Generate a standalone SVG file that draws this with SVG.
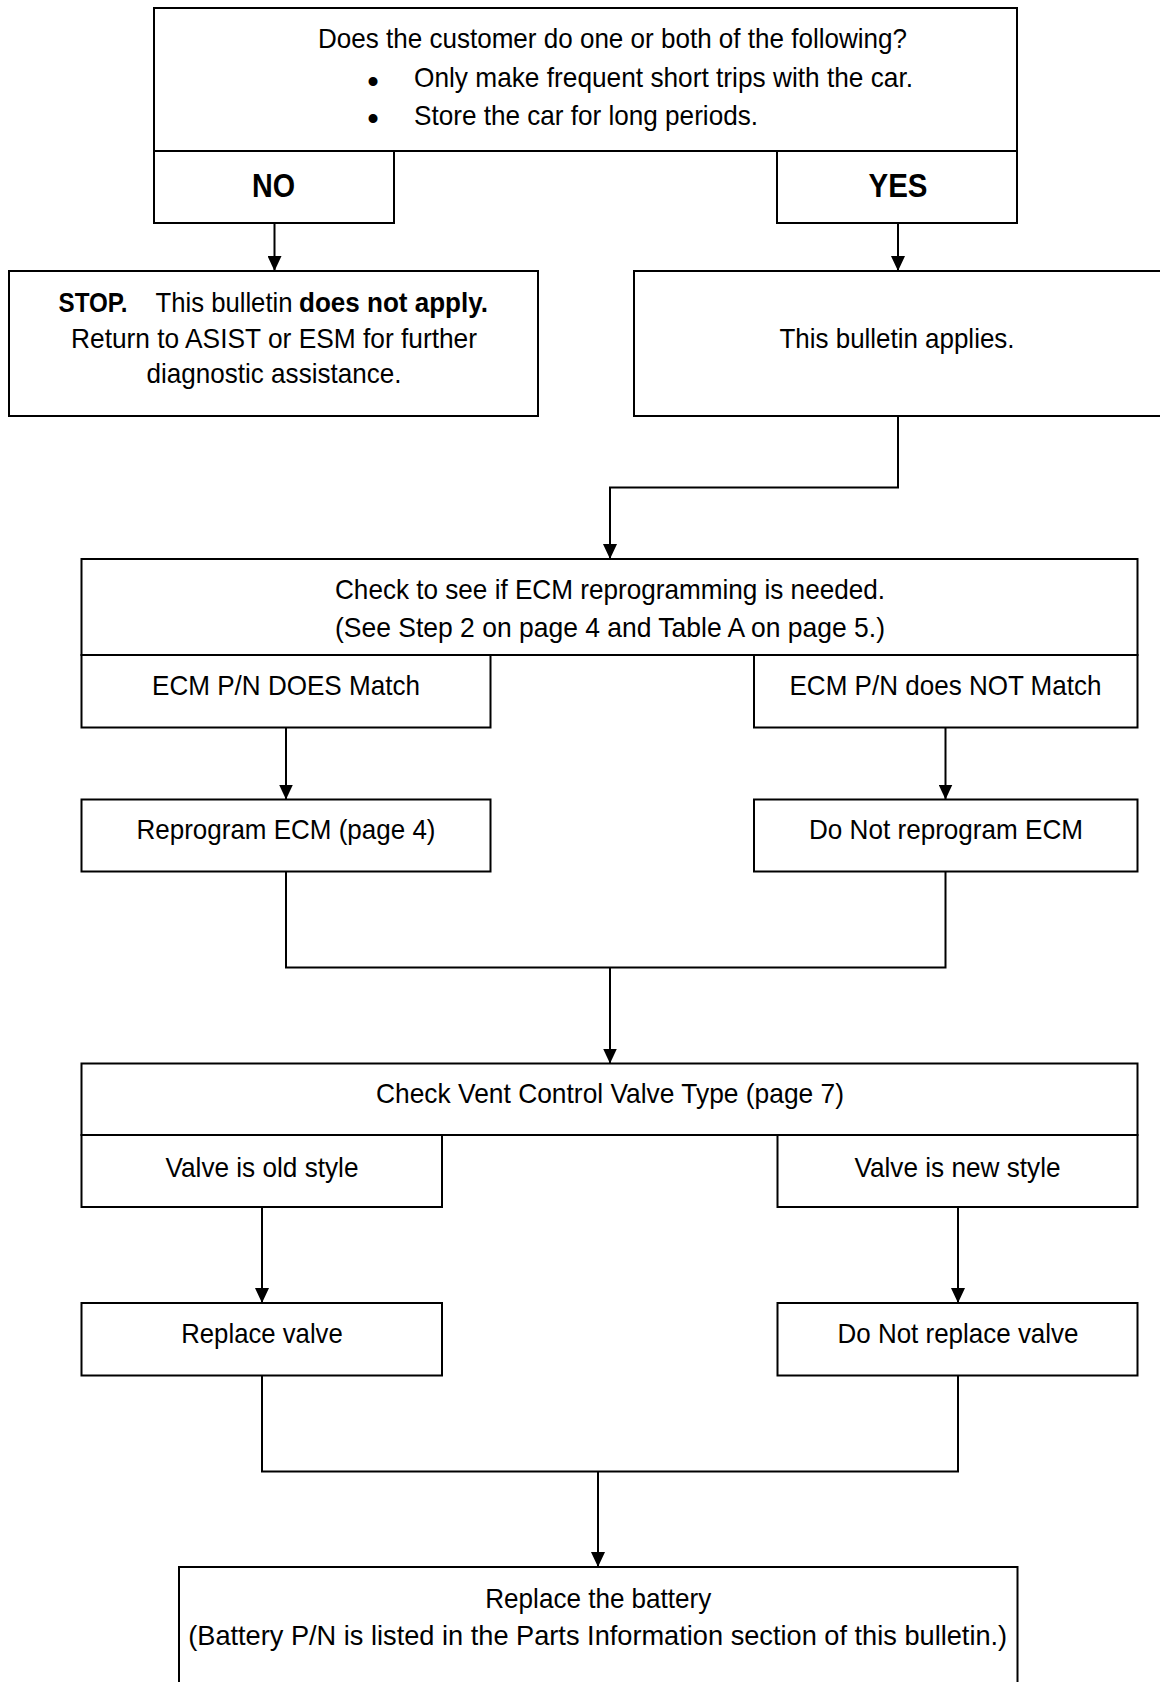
<svg xmlns="http://www.w3.org/2000/svg" width="1160" height="1682" viewBox="0 0 1160 1682">
<defs>
<style>
.box{fill:#fff;stroke:#000;stroke-width:2}
.ln{fill:none;stroke:#000;stroke-width:2}
text{font-family:"Liberation Sans",Arial,sans-serif;font-size:28px;fill:#000}
.c{text-anchor:middle}
.b{font-weight:bold}
.big{font-size:33px;font-weight:bold}
.bul{font-size:33px}
</style>
<marker id="ah" viewBox="0 0 15 14" refX="15" refY="7" markerWidth="15" markerHeight="14" markerUnits="userSpaceOnUse" orient="auto">
<path d="M0,0 L15,7 L0,14 z" fill="#000"/>
</marker>
</defs>
<rect width="1160" height="1682" fill="#fff"/>

<g id="connectors">
<path class="ln" d="M274.5,223 V271" marker-end="url(#ah)"/>
<path class="ln" d="M898,223 V271" marker-end="url(#ah)"/>
<path class="ln" d="M898,416 V487.5 H610 V559" marker-end="url(#ah)"/>
<path class="ln" d="M286,727.5 V799.5" marker-end="url(#ah)"/>
<path class="ln" d="M945.5,727.5 V799.5" marker-end="url(#ah)"/>
<path class="ln" d="M286,871.5 V967.5 H945.5 V871.5"/>
<path class="ln" d="M610,967.5 V1063.5" marker-end="url(#ah)"/>
<path class="ln" d="M262,1207 V1303" marker-end="url(#ah)"/>
<path class="ln" d="M958,1207 V1303" marker-end="url(#ah)"/>
<path class="ln" d="M262,1375.5 V1471.5 H958 V1375.5"/>
<path class="ln" d="M598,1471.5 V1567" marker-end="url(#ah)"/>
</g>

<g id="q1">
<rect class="box" x="154" y="8" width="863" height="143"/>
<text x="318" y="48" textLength="589" lengthAdjust="spacingAndGlyphs">Does the customer do one or both of the following?</text>
<text class="c bul" x="373" y="93">•</text>
<text x="414" y="87" textLength="499" lengthAdjust="spacingAndGlyphs">Only make frequent short trips with the car.</text>
<text class="c bul" x="373" y="130">•</text>
<text x="414" y="125" textLength="344" lengthAdjust="spacingAndGlyphs">Store the car for long periods.</text>
</g>

<g id="no">
<rect class="box" x="154" y="151" width="240" height="72"/>
<text class="c big" x="273.5" y="197" textLength="43" lengthAdjust="spacingAndGlyphs">NO</text>
</g>

<g id="yes">
<rect class="box" x="777" y="151" width="240" height="72"/>
<text class="c big" x="898" y="197" textLength="59" lengthAdjust="spacingAndGlyphs">YES</text>
</g>

<g id="stop">
<rect class="box" x="9" y="271" width="529" height="145"/>
<text y="312"><tspan class="b" x="58.5" textLength="69" lengthAdjust="spacingAndGlyphs">STOP.</tspan><tspan x="155.5" textLength="137" lengthAdjust="spacingAndGlyphs">This bulletin</tspan><tspan class="b" x="299" textLength="189" lengthAdjust="spacingAndGlyphs">does not apply.</tspan></text>
<text class="c" x="274" y="348" textLength="406" lengthAdjust="spacingAndGlyphs">Return to ASIST or ESM for further</text>
<text class="c" x="274" y="383" textLength="255" lengthAdjust="spacingAndGlyphs">diagnostic assistance.</text>
</g>

<g id="applies">
<rect class="box" x="634" y="271" width="540" height="145"/>
<text class="c" x="897" y="348" textLength="235" lengthAdjust="spacingAndGlyphs">This bulletin applies.</text>
</g>

<g id="ecmcheck">
<rect class="box" x="81.5" y="559" width="1056" height="96"/>
<text class="c" x="610" y="599" textLength="550" lengthAdjust="spacingAndGlyphs">Check to see if ECM reprogramming is needed.</text>
<text class="c" x="610" y="637" textLength="550" lengthAdjust="spacingAndGlyphs">(See Step 2 on page 4 and Table A on page 5.)</text>
</g>

<g id="match">
<rect class="box" x="81.5" y="655" width="409" height="72.5"/>
<text class="c" x="286" y="695" textLength="268" lengthAdjust="spacingAndGlyphs">ECM P/N DOES Match</text>
</g>

<g id="nomatch">
<rect class="box" x="754" y="655" width="383.5" height="72.5"/>
<text class="c" x="945.5" y="695" textLength="312" lengthAdjust="spacingAndGlyphs">ECM P/N does NOT Match</text>
</g>

<g id="reprogram">
<rect class="box" x="81.5" y="799.5" width="409" height="72"/>
<text class="c" x="286" y="839" textLength="299" lengthAdjust="spacingAndGlyphs">Reprogram ECM (page 4)</text>
</g>

<g id="noreprogram">
<rect class="box" x="754" y="799.5" width="383.5" height="72"/>
<text class="c" x="946" y="839" textLength="274" lengthAdjust="spacingAndGlyphs">Do Not reprogram ECM</text>
</g>

<g id="vent">
<rect class="box" x="81.5" y="1063.5" width="1056" height="71.5"/>
<text class="c" x="610" y="1103" textLength="468" lengthAdjust="spacingAndGlyphs">Check Vent Control Valve Type (page 7)</text>
</g>

<g id="old">
<rect class="box" x="81.5" y="1135" width="360.5" height="72"/>
<text class="c" x="262" y="1177" textLength="193" lengthAdjust="spacingAndGlyphs">Valve is old style</text>
</g>

<g id="new">
<rect class="box" x="777.5" y="1135" width="360" height="72"/>
<text class="c" x="957.5" y="1177" textLength="206" lengthAdjust="spacingAndGlyphs">Valve is new style</text>
</g>

<g id="replace">
<rect class="box" x="81.5" y="1303" width="360.5" height="72.5"/>
<text class="c" x="262" y="1343" textLength="161.5" lengthAdjust="spacingAndGlyphs">Replace valve</text>
</g>

<g id="noreplace">
<rect class="box" x="777.5" y="1303" width="360" height="72.5"/>
<text class="c" x="958" y="1343" textLength="241" lengthAdjust="spacingAndGlyphs">Do Not replace valve</text>
</g>

<g id="battery">
<rect class="box" x="179" y="1567" width="838.5" height="130"/>
<text class="c" x="598.3" y="1608" textLength="226" lengthAdjust="spacingAndGlyphs">Replace the battery</text>
<text class="c" x="597.7" y="1645" textLength="819" lengthAdjust="spacingAndGlyphs">(Battery P/N is listed in the Parts Information section of this bulletin.)</text>
</g>
</svg>
